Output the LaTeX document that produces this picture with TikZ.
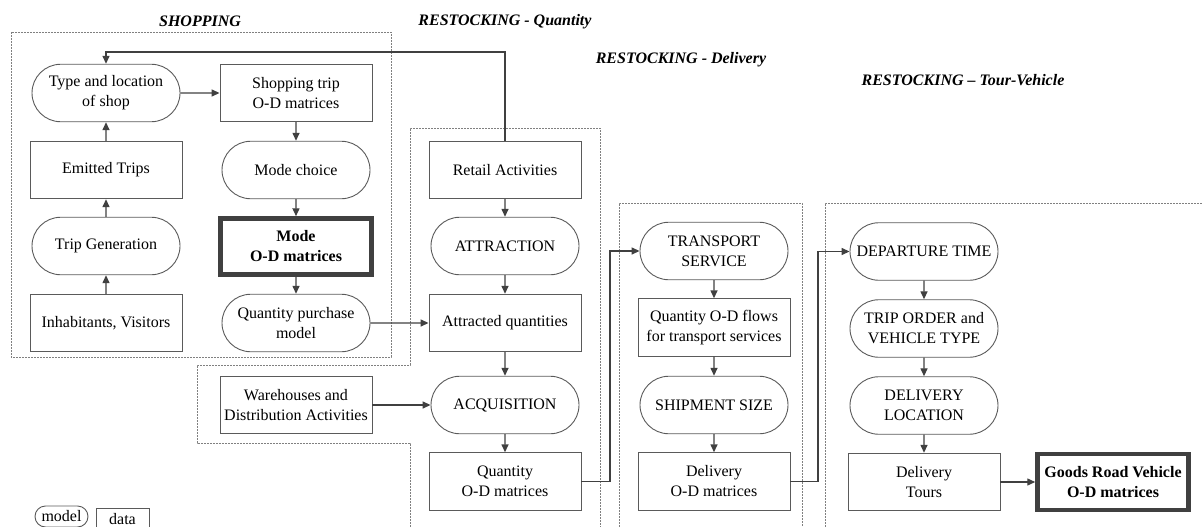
\documentclass[tikz,border=0pt]{standalone}
\usepackage{fontspec}
\setmainfont{Liberation Serif}
\usetikzlibrary{shapes.misc,arrows.meta}
\definecolor{edge}{HTML}{5A5A5A}
\definecolor{conn}{HTML}{404040}
\definecolor{dash}{HTML}{808080}
\tikzset{
  base/.style={draw=edge, line width=0.9pt, align=center, inner sep=2pt,
    minimum width=152pt, minimum height=57.5pt, font=\fontsize{16}{20}\selectfont},
  databox/.style={base, rectangle},
  modelbox/.style={base, rounded rectangle, rounded rectangle arc length=180},
  keybox/.style={base, rectangle, draw=conn, line width=4.5pt, minimum width=151pt,
    minimum height=56pt, font=\fontsize{16}{20}\selectfont\bfseries},
  conn/.style={draw=conn, line width=1.4pt, -{Triangle[length=8pt,width=7pt]}},
  zone/.style={draw=dash, line width=0.9pt, dash pattern=on 2pt off 1pt},
  zlabel/.style={font=\fontsize{16}{20}\selectfont\bfseries\itshape, inner sep=0pt}
}
\begin{document}
\begin{tikzpicture}[x=1pt,y=-1pt]
\useasboundingbox (0,0) rectangle (1202,527);
\clip (0,0) rectangle (1202,527);
% zones
\draw[zone] (11,32) rectangle (391,357);
\draw[zone] (410,545) -- (410,443) -- (197,443) -- (197,365) -- (410,365) -- (410,128) -- (600,128) -- (600,545);
\draw[zone] (619,545) -- (619,203) -- (802,203) -- (802,545);
\draw[zone] (825,545) -- (825,203) -- (1220,203);
% zone labels
\node[zlabel] (lshop) at (200,21) {SHOPPING};
\node[zlabel] (lrq) at (505,22) {RESTOCKING - Quantity};
\node[zlabel] (lrd) at (681,60) {RESTOCKING - Delivery};
\node[zlabel] (lrt) at (963,80) {RESTOCKING -- Tour-Vehicle};
% shopping
\node[modelbox] (tls) at (106,93) {Type and location\\of shop};
\node[databox] (stm) at (296,93) {Shopping trip\\O-D matrices};
\node[databox] (emt) at (106,170) {Emitted Trips};
\node[modelbox] (mch) at (296,170) {Mode choice};
\node[modelbox] (tgen) at (106,246) {Trip Generation};
\node[keybox] (mod) at (296,246.5) {Mode\\O-D matrices};
\node[databox] (inh) at (106,323) {Inhabitants, Visitors};
\node[modelbox] (qpm) at (296,323) {Quantity purchase\\model};
% restocking quantity
\node[databox] (ret) at (505,170) {Retail Activities};
\node[modelbox] (attr) at (505,246) {ATTRACTION};
\node[databox] (attq) at (505,323) {Attracted quantities};
\node[modelbox] (acq) at (505,405) {ACQUISITION};
\node[databox] (qod) at (505,481.5) {Quantity\\O-D matrices};
\node[databox] (wh) at (296,405) {Warehouses and\\Distribution Activities};
% restocking delivery
\node[modelbox] (ts) at (714,251) {TRANSPORT\\SERVICE};
\node[databox] (qf) at (714,327.5) {Quantity O-D flows\\for transport services};
\node[modelbox] (ss) at (714,405) {SHIPMENT SIZE};
\node[databox] (dod) at (714,481.5) {Delivery\\O-D matrices};
% restocking tour-vehicle
\node[modelbox] (dep) at (924,251.5) {DEPARTURE TIME};
\node[modelbox] (tov) at (924,328.5) {TRIP ORDER and\\VEHICLE TYPE};
\node[modelbox] (dloc) at (924,405.5) {DELIVERY\\LOCATION};
\node[databox] (dt) at (924,482) {Delivery\\Tours};
\node[keybox] (grv) at (1113,482) {Goods Road Vehicle\\O-D matrices};
% legend
\node[modelbox, minimum width=53pt, minimum height=21pt, inner sep=0pt] (lmodel) at (61.5,516.5) {model};
\node[databox, minimum width=53pt, minimum height=22pt, inner sep=0pt] (ldata) at (122.5,519) {data};
% connectors
\coordinate (fbr) at (505,52);
\coordinate (fbl) at (106,52);
\draw[conn] (ret.north) -- (fbr) -- (fbl) -- (tls.north);
\draw[conn] (tls) -- (stm);
\draw[conn] (stm) -- (mch);
\draw[conn] (mch) -- (mod);
\draw[conn] (mod) -- (qpm);
\draw[conn] (inh) -- (tgen);
\draw[conn] (tgen) -- (emt);
\draw[conn] (emt) -- (tls);
\draw[conn] (qpm) -- (attq);
\draw[conn] (ret) -- (attr);
\draw[conn] (attr) -- (attq);
\draw[conn] (attq) -- (acq);
\draw[conn] (acq) -- (qod);
\draw[conn] (wh) -- (acq);
\coordinate (q1) at (610,481.5);
\coordinate (q2) at (610,251);
\draw[conn] (qod.east) -- (q1) -- (q2) -- (ts.west);
\draw[conn] (ts) -- (qf);
\draw[conn] (qf) -- (ss);
\draw[conn] (ss) -- (dod);
\coordinate (d1) at (818,481.5);
\coordinate (d2) at (818,251.5);
\draw[conn] (dod.east) -- (d1) -- (d2) -- (dep.west);
\draw[conn] (dep) -- (tov);
\draw[conn] (tov) -- (dloc);
\draw[conn] (dloc) -- (dt);
\draw[conn] (dt) -- (grv);
\end{tikzpicture}
\end{document}
